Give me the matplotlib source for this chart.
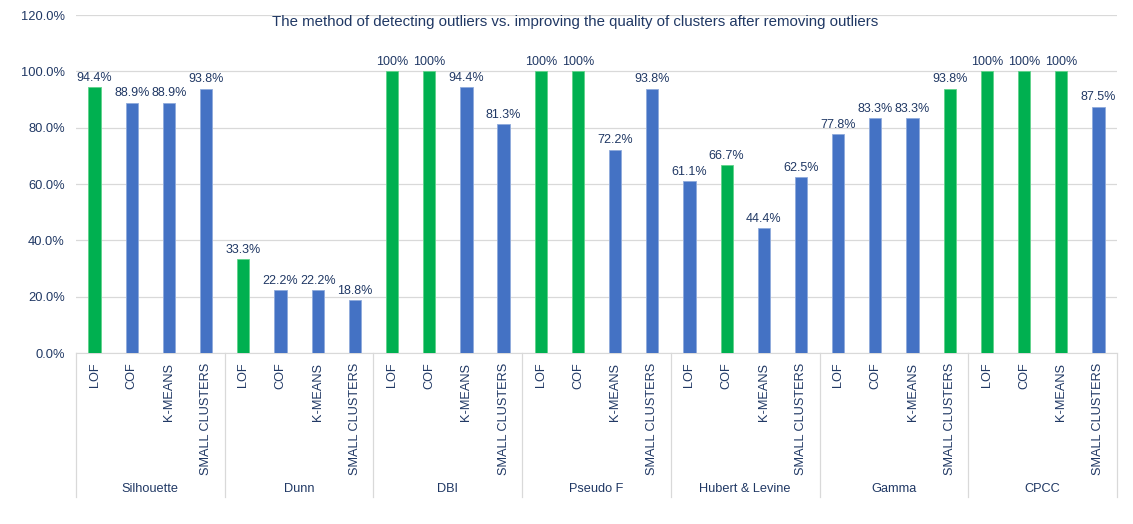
import matplotlib.pyplot as plt
import numpy as np
from matplotlib.transforms import blended_transform_factory

plt.rcParams['font.family'] = ['Liberation Sans', 'DejaVu Sans']

metody = ["LOF", "COF", "K-MEANS", "SMALL CLUSTERS"]
miary = ["Silhouette", "Dunn", "DBI", "Pseudo F", "Hubert & Levine", "Gamma", "CPCC"]

silhouette = [94.4, 88.9, 88.9, 93.8]
dunn = [33.3, 22.2, 22.2, 18.8]
dbi = [100, 100, 94.4, 81.3]
pseudo_f = [100, 100, 72.2, 93.8]
hubert_levine = [61.1, 66.7, 44.4, 62.5]
gamma = [77.8, 83.3, 83.3, 93.8]
cpcc = [100, 100, 100, 87.5]

wyniki = [silhouette, dunn, dbi, pseudo_f, hubert_levine, gamma, cpcc]

tytul = "The method of detecting outliers vs. improving the quality of clusters after removing outliers"

zielony = "#00B050"
niebieski = "#4472C4"
granat = "#203864"
szary = "#D9D9D9"

fig = plt.figure(figsize=(11.33, 5.24), dpi=100)
ax = fig.add_axes([0.0671, 0.3263, 0.9188, 0.6450])

n = len(metody)
pozycje = []
etykiety = []
for g, wartosci in enumerate(wyniki):
    najlepszy = max(wartosci)
    for i, v in enumerate(wartosci):
        x = g * n + i
        kolor = zielony if v == najlepszy else niebieski
        ax.bar(x, v, width=0.33, color=kolor, edgecolor="#8FAADC" if kolor == niebieski else "#5FD38A",
               linewidth=0.6, zorder=3)
        tekst = "100%" if v == 100 else f"{v:.1f}%"
        ax.text(x, v + 1.2, tekst, ha="center", va="bottom", fontsize=9,
                color=granat, zorder=4)
        pozycje.append(x)
        etykiety.append(metody[i])

ax.set_xlim(-0.5, len(wyniki) * n - 0.5)
ax.set_ylim(0, 120)
ax.set_yticks(np.arange(0, 121, 20))
ax.set_yticklabels([f"{t:.1f}%" for t in np.arange(0, 121, 20)], fontsize=9.3, color=granat)
ax.grid(axis="y", color=szary, linewidth=0.9, zorder=0)

ax.set_xticks(pozycje)
ax.set_xticklabels(etykiety, rotation=90, fontsize=9.2, color=granat, va="top")
ax.tick_params(axis="both", length=0)
ax.tick_params(axis="x", pad=7)
ax.tick_params(axis="y", pad=8)

for s in ["top", "right", "left"]:
    ax.spines[s].set_visible(False)
ax.spines["bottom"].set_color(szary)

trans = blended_transform_factory(ax.transData, ax.transAxes)
for g in range(len(wyniki) + 1):
    xs = g * n - 0.5
    ax.plot([xs, xs], [0, -0.426], transform=trans, color=szary, linewidth=0.9,
            clip_on=False)
for g, nazwa in enumerate(miary):
    ax.text(g * n + (n - 1) / 2, -0.402, nazwa, transform=trans, ha="center",
            va="center", fontsize=9.2, color=granat)

fig.text(575 / 1133, 1 - 22 / 524, tytul, ha="center", va="center",
         fontsize=10.8, color=granat)

fig.savefig("out.png", dpi=100)
